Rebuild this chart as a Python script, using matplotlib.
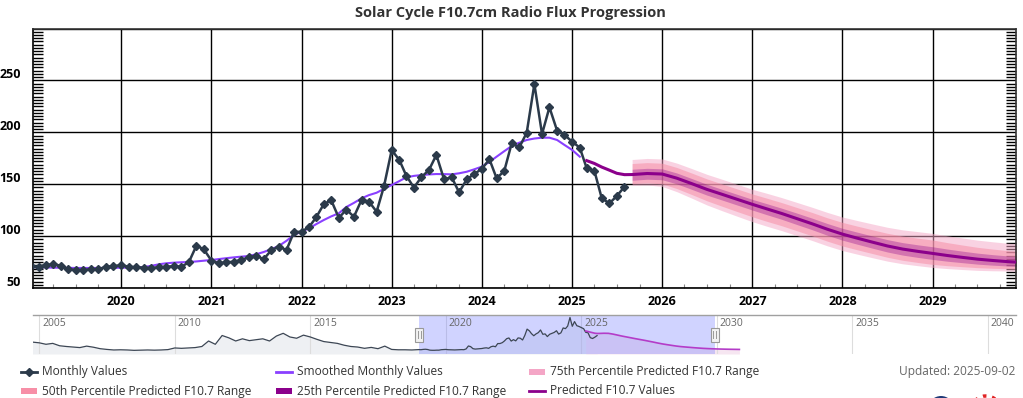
import pandas as pd
import matplotlib
matplotlib.use('Agg')
import matplotlib.pyplot as plt
import matplotlib.dates as mdates
from matplotlib.ticker import MultipleLocator
from matplotlib.transforms import ScaledTranslation, blended_transform_factory
from matplotlib.patches import Rectangle, Ellipse, Arc
from matplotlib.lines import Line2D

# observed monthly F10.7, Jan 2019 -> Aug 2025
monthly_values = [
    71.0, 70.5, 72.0, 73.0, 71.5, 68.0, 67.3, 67.3, 68.0, 68.0, 70.5, 71.0,
    72.0, 70.5, 70.0, 69.5, 69.2, 70.0, 70.5, 71.0, 70.5, 74.7, 90.8, 87.3,
    76.3, 73.8, 74.7, 75.3, 77.0, 79.5, 80.8, 77.9, 86.6, 89.8, 86.6, 103.9,
    104.2, 109.0, 118.0, 130.8, 134.6, 117.5, 125.5, 118.7, 134.8, 133.2, 123.5, 148.2,
    182.9, 173.3, 158.3, 146.7, 156.7, 163.7, 178.2, 154.7, 156.7, 142.2, 154.7, 159.8,
    164.7, 174.0, 155.7, 162.7, 189.3, 185.5, 199.6, 246.5, 198.3, 224.1, 201.6, 197.4,
    191.0, 185.2, 165.3, 163.0, 136.4, 131.6, 138.6, 147.6,
]

# smoothed monthly values, Jan 2019 -> Feb 2025
smoothed_values = [
    70.2, 70.0, 69.8, 69.6, 69.5, 69.4, 69.3, 69.3, 69.3, 69.3, 69.3, 69.4,
    69.5, 69.7, 69.9, 70.2, 71.3, 72.8, 73.8, 74.4, 74.8, 75.0, 75.6, 76.3,
    77.0, 77.9, 78.7, 79.5, 80.2, 80.8, 82.5, 84.7, 87.5, 90.5, 95.5, 101.0,
    104.5, 107.5, 111.5, 115.5, 119.0, 122.0, 128.0, 132.0, 136.4, 139.5, 141.8, 145.5,
    149.2, 153.0, 156.6, 158.0, 158.8, 159.4, 159.8, 159.7, 159.5, 160.5, 162.0, 164.3,
    166.9, 171.5, 176.5, 181.8, 186.8, 190.0, 192.6, 194.0, 194.8, 194.8, 192.6, 187.8,
    183.0, 176.5,
]

# older history shown only in the navigator, quarterly Oct 2004 -> Oct 2018
history_values = [
    112, 108, 100, 105, 92, 88, 85, 82, 90, 84, 76, 72, 69,
    70, 69, 67, 68, 69, 68, 69, 71, 80, 78, 80, 82,
    88, 118, 100, 148, 135, 118, 130, 120, 125, 130, 118, 145,
    160, 140, 133, 150, 140, 127, 115, 110, 105, 95, 88, 85,
    78, 83, 76, 90, 72, 70, 70, 69,
]

# predicted values: monthly Mar-Aug 2025, then every two months Sep 2025 -> Nov 2030
pred_head = [172.7, 170.0, 166.5, 163.5, 160.5, 159.2]
pred_values = [
    159.3, 160.3, 159.8, 155.8, 150.5, 145.0, 140.2, 135.4, 130.6, 126.2, 121.7, 116.8,
    111.8, 106.6, 101.9, 98.0, 94.2, 90.5, 87.5, 85.3, 83.3, 81.3, 79.5, 77.8,
    76.5, 75.4, 74.6, 73.9, 73.3, 72.8, 72.4, 72.0,
]
p75_upper = [
    173.8, 174.8, 174.3, 170.3, 165.0, 159.5, 154.7, 149.9, 145.1, 141.2, 137.0, 132.4,
    127.7, 122.8, 118.4, 115.0, 111.7, 108.5, 106.0, 104.3, 102.6, 100.3, 98.2, 96.1,
    94.5, 93.1, 92.1, 91.3, 90.6, 90.0, 89.5, 89.0,
]
p75_lower = [
    149.0, 149.3, 147.8, 142.8, 136.5, 130.0, 124.4, 119.1, 113.9, 109.5, 105.2, 100.5,
    95.7, 90.6, 86.1, 82.6, 79.2, 75.9, 73.3, 71.5, 69.8, 68.7, 67.8, 67.0,
    66.6, 66.4, 65.8, 65.3, 64.9, 64.5, 64.3, 64.0,
]
p50_upper = [
    169.9, 170.8, 170.2, 166.1, 160.7, 155.1, 150.2, 145.4, 140.6, 136.5, 132.2, 127.5,
    122.7, 117.6, 113.2, 109.6, 106.1, 102.7, 100.0, 98.0, 96.2, 93.7, 91.4, 89.2,
    87.5, 86.0, 85.1, 84.3, 83.6, 83.0, 82.5, 82.0,
]
p50_lower = [
    150.6, 151.3, 150.3, 145.8, 140.0, 134.0, 128.7, 123.6, 118.6, 114.2, 109.9, 105.1,
    100.2, 95.1, 90.5, 86.8, 83.2, 79.6, 76.7, 74.6, 72.7, 71.5, 70.5, 69.6,
    69.0, 68.6, 68.0, 67.4, 67.0, 66.6, 66.3, 66.0,
]
p25_upper = [
    164.4, 165.3, 164.8, 160.8, 155.4, 149.9, 145.0, 140.2, 135.4, 131.2, 126.8, 122.1,
    117.2, 112.1, 107.5, 103.8, 100.1, 96.6, 93.7, 91.6, 89.7, 87.5, 85.5, 83.6,
    82.1, 80.9, 80.0, 79.2, 78.5, 77.9, 77.4, 77.0,
]
p25_lower = [
    153.8, 154.8, 154.3, 150.3, 145.0, 139.5, 134.7, 129.9, 125.1, 120.6, 116.1, 111.1,
    106.1, 100.8, 96.1, 92.2, 88.4, 84.7, 81.7, 79.5, 77.5, 75.8, 74.4, 73.0,
    72.0, 71.2, 70.5, 69.9, 69.4, 68.9, 68.5, 68.1,
]

x_years = list(range(2020, 2030))
y_ticks = [50, 100, 150, 200, 250, 300]
y_labels = ['50', '100', '150', '200', '250', '']

monthly_dates = pd.date_range('2019-01-01', periods=len(monthly_values), freq='MS')
smoothed_dates = pd.date_range('2019-01-01', periods=len(smoothed_values), freq='MS')
history_dates = pd.date_range('2004-10-01', periods=len(history_values), freq='3MS')
band_dates = pd.date_range('2025-09-01', periods=len(pred_values), freq='2MS')
head_dates = pd.date_range('2025-03-01', periods=len(pred_head), freq='MS')
pred_dates = head_dates.append(band_dates)
pred_all = pred_head + pred_values

C_MONTHLY = '#2b3a4a'
C_SMOOTH = '#8a40ff'
C_PRED = '#8b008b'
C_75 = '#f4a6c6'
C_50 = '#f78fa7'
C_25 = '#8b008b'

plt.rcParams['font.family'] = ['Open Sans', 'DejaVu Sans']

W, H = 1023, 398


def fx(x):
    return x / W


def fy(y):
    return 1 - y / H


fig = plt.figure(figsize=(W / 100, H / 100), dpi=100)

# ---- main chart
ax = fig.add_axes([fx(33), fy(288), fx(1016) - fx(33), fy(28.5) - fy(288)])
ax.fill_between(band_dates, p75_lower, p75_upper, color=C_75, alpha=0.5, lw=0, zorder=2)
ax.fill_between(band_dates, p50_lower, p50_upper, color=C_50, alpha=0.55, lw=0, zorder=2)
ax.fill_between(band_dates, p25_lower, p25_upper, color=C_25, alpha=0.33, lw=0, zorder=2)
ax.plot(smoothed_dates, smoothed_values, color=C_SMOOTH, lw=1.5, zorder=3)
ax.plot(monthly_dates, monthly_values, color=C_MONTHLY, lw=1.8, marker='D',
        markersize=4.0, zorder=4)
ax.plot(pred_dates, pred_all, color=C_PRED, lw=2.2, zorder=5)

x_left = pd.Timestamp('2019-01-09')
x_right = pd.Timestamp('2029-12-04')
ax.set_xlim(x_left, x_right)
ax.set_ylim(50, 300)

ax.set_xticks([pd.Timestamp(f'{y}-01-01') for y in x_years])
ax.set_xticklabels([str(y) for y in x_years], fontweight='bold')
ax.set_yticks(y_ticks)
ax.set_yticklabels(y_labels, fontweight='bold')
ax.xaxis.set_minor_locator(mdates.MonthLocator(bymonth=[4, 7, 10]))
ax.yaxis.set_minor_locator(MultipleLocator(3.125))
ax.tick_params(axis='both', which='major', length=0, labelsize=9, labelcolor='black')
ax.tick_params(axis='x', which='major', pad=5)
ax.tick_params(axis='y', which='major', pad=8.5)
ax.tick_params(axis='y', which='minor', direction='in', length=7.3, width=1.0,
               color='black', left=True, right=True)
ax.tick_params(axis='x', which='minor', direction='in', length=3, width=0.8,
               color='#888888')
for lab in ax.get_yticklabels():
    lab.set_transform(lab.get_transform() + ScaledTranslation(0, 0.07, fig.dpi_scale_trans))

ax.grid(which='major', color='black', lw=1.0, zorder=1)
ax.set_axisbelow(True)
for side in ['left', 'bottom']:
    ax.spines[side].set_color('black')
    ax.spines[side].set_linewidth(1.2)
for side in ['top', 'right']:
    ax.spines[side].set_color('#333333')
    ax.spines[side].set_linewidth(1.2)

fig.text(fx(510), fy(13), 'Solar Cycle F10.7cm Radio Flux Progression', ha='center',
         va='center', fontsize=10.5, fontweight='bold', color='#333333')

# ---- navigator
nav = fig.add_axes([fx(33), fy(354), fx(1016) - fx(33), fy(315) - fy(354)])
nav_dates = history_dates.append(monthly_dates)
nav_values = history_values + monthly_values
nav_start = pd.Timestamp('2004-10-08')
nav_end = pd.Timestamp('2041-01-15')
nav.set_xlim(nav_start, nav_end)
nav.set_ylim(47, 260)
nav.fill_between(nav_dates, nav_values, 47, color='#eef0f3', lw=0, zorder=1)
nav.fill_between(pred_dates, pred_all, 47, color='#f6e6f1', lw=0, zorder=1)
nav.axvspan(x_left, x_right, color='#6670ff', alpha=0.3, lw=0, zorder=2)
nav.plot(nav_dates, nav_values, color='#3c4654', lw=0.9, zorder=3)
nav.plot(pred_dates, pred_all, color='#b43cc8', lw=1.2, zorder=3)

nav.xaxis.set_major_locator(mdates.YearLocator(5))
nav.grid(axis='x', color='#dddddd', lw=0.8, zorder=0)
nav.tick_params(length=0, labelbottom=False, labelleft=False)
nav.set_yticks([])
for side in ['left', 'right', 'bottom']:
    nav.spines[side].set_visible(False)
nav.spines['top'].set_color('#a0a0a0')
nav.spines['top'].set_linewidth(1.0)

tr = blended_transform_factory(nav.transData, nav.transAxes)
off = ScaledTranslation(0.03, 0, fig.dpi_scale_trans)
lo, hi = mdates.date2num(nav_start), mdates.date2num(nav_end)
for t in nav.get_xticks():
    if t < lo or t > hi:
        continue
    d = mdates.num2date(t)
    nav.text(t, 0.78, str(d.year), transform=tr + off, ha='left', va='center',
             fontsize=7.5, color='#666666', clip_on=False)

# range handles
hw = pd.Timedelta(days=55)
for xh in [x_left, x_right]:
    nav.add_patch(Rectangle((mdates.date2num(xh - hw), 0.31),
                            mdates.date2num(xh + hw) - mdates.date2num(xh - hw), 0.36,
                            transform=tr, facecolor='#f2f2f2', edgecolor='#999999',
                            lw=0.8, zorder=6, clip_on=False))
    for dx in [-18, 18]:
        xl = mdates.date2num(xh + pd.Timedelta(days=dx))
        nav.plot([xl, xl], [0.4, 0.58], transform=tr, color='#999999', lw=0.7,
                 zorder=7, clip_on=False)

# ---- legend
legend_items = [
    ('line_marker', C_MONTHLY, 'Monthly Values', 21, 372),
    ('line', C_SMOOTH, 'Smoothed Monthly Values', 276, 372),
    ('rect', C_75, '75th Percentile Predicted F10.7 Range', 529, 372),
    ('rect', C_50, '50th Percentile Predicted F10.7 Range', 21, 391),
    ('rect', C_25, '25th Percentile Predicted F10.7 Range', 276, 391),
    ('line', C_PRED, 'Predicted F10.7 Values', 529, 391),
]
for kind, color, label, x0, y0 in legend_items:
    if kind == 'rect':
        fig.add_artist(Rectangle((fx(x0), fy(y0 + 3)), 16 / W, 6 / H,
                                 transform=fig.transFigure, color=color, lw=0))
    else:
        fig.add_artist(Line2D([fx(x0), fx(x0 + 16)], [fy(y0), fy(y0)],
                              transform=fig.transFigure, color=color, lw=2))
        if kind == 'line_marker':
            fig.add_artist(Line2D([fx(x0 + 8)], [fy(y0)], transform=fig.transFigure,
                                  color=color, marker='D', markersize=4.2))
    fig.text(fx(x0 + 21), fy(y0), label, ha='left', va='center', fontsize=8.6,
             color='#333333')

fig.text(fx(1015), fy(372), 'Updated: 2025-09-02', ha='right', va='center',
         fontsize=8.6, color='#666666')

# partially visible logos at the bottom right
fig.add_artist(Ellipse((fx(941), fy(409)), 26 / W, 26 / H, transform=fig.transFigure,
                       color='#1f3a78', lw=0))
fig.add_artist(Arc((fx(986), fy(411)), 30 / W, 30 / H, theta1=40, theta2=140,
                   transform=fig.transFigure, color='#e02424', lw=2.5, linestyle=':'))

fig.savefig('out.png', dpi=100)
